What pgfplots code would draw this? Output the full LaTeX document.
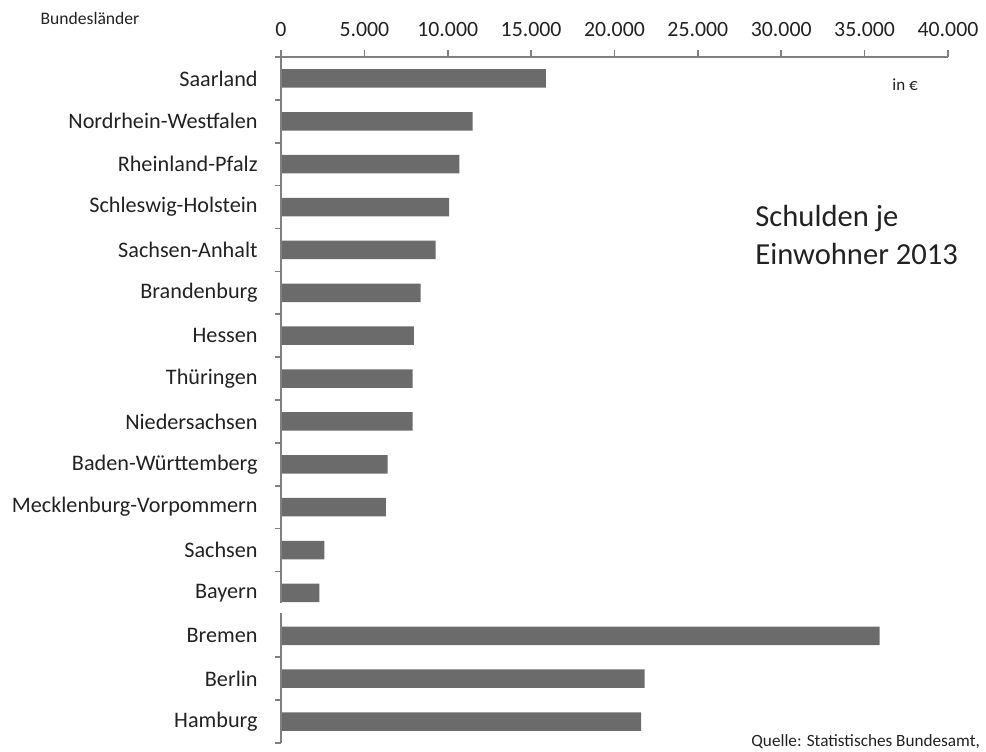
\documentclass[border=0pt]{standalone}
\usepackage{fontspec}
\setmainfont{Carlito}
\usepackage{pgfplots}
\pgfplotsset{compat=1.18}
\definecolor{barc}{HTML}{6B6B6B}
\definecolor{axc}{HTML}{808080}
\definecolor{txt}{HTML}{222222}
\begin{document}
\begin{tikzpicture}
\path[use as bounding box] (0,0) rectangle (493pt,-375.5pt);
\begin{axis}[
  at={(140.5pt,-28.5pt)}, anchor=north west,
  scale only axis, width=333.5pt, height=343pt,
  xbar, bar width=9.2pt,
  xmin=0, xmax=40000, ymin=-0.5, ymax=15.5,
  axis x line=top, axis y line=left,
  x axis line style={-, axc, line width=1pt},
  y axis line style={draw=none},
  tick align=outside,
  major tick length=3.5pt,
  minor tick length=3pt,
  xtick={0,5000,...,40000},
  scaled x ticks=false,
  x tick style={axc, line width=0.8pt},
  xticklabel style={font=\fontsize{10.9}{12}\selectfont, text=txt, yshift=3pt},
  /pgf/number format/.cd, 1000 sep={.}, assume math mode=true, /pgfplots/.cd,
  ytick={0,...,15},
  yticklabels={Hamburg,Berlin,Bremen,Bayern,Sachsen,Mecklenburg-Vorpommern,Baden-Württemberg,Niedersachsen,Thüringen,Hessen,Brandenburg,Sachsen-Anhalt,Schleswig-Holstein,Rheinland-Pfalz,Nordrhein-Westfalen,Saarland},
  every major y tick/.append style={draw=none},
  minor ytick={-0.5,0.5,1.5,3.5,4.5,5.5,6.5,7.5,8.5,9.5,10.5,11.5,12.5,13.5,14.5,15.5},
  every minor y tick/.append style={axc, line width=0.8pt},
  yticklabel style={font=\fontsize{11.1}{12}\selectfont, text=txt, inner sep=0pt, xshift=-8pt},
  clip=false,
]
\addplot[fill=barc, draw=none] coordinates {
  (21600,0) (21800,1) (35900,2) (2300,3) (2600,4) (6290,5) (6400,6)
  (7890,7) (7890,8) (7970,9) (8370,10) (9270,11) (10090,12) (10690,13)
  (11490,14) (15890,15)
};
\draw[axc, line width=1pt] (axis cs:0,-0.5) -- (axis cs:0,2.54);
\draw[axc, line width=1pt] (axis cs:0,2.77) -- (axis cs:0,15.5);
\end{axis}
\node[text=txt, font=\fontsize{8.8}{10}\selectfont] at (45pt,-9pt) {Bundesländer};
\node[text=txt, font=\fontsize{8.5}{10}\selectfont] at (452.5pt,-42.5pt) {in €};
\node[text=txt, font=\fontsize{15.3}{19}\selectfont, align=left, anchor=west, inner sep=0pt] at (377.5pt,-117.5pt) {Schulden je\\Einwohner 2013};
\node[text=txt, font=\fontsize{8.6}{10}\selectfont, anchor=west, inner sep=0pt] at (375.5pt,-371pt) {Quelle: Statistisches Bundesamt,};
\end{tikzpicture}
\end{document}
